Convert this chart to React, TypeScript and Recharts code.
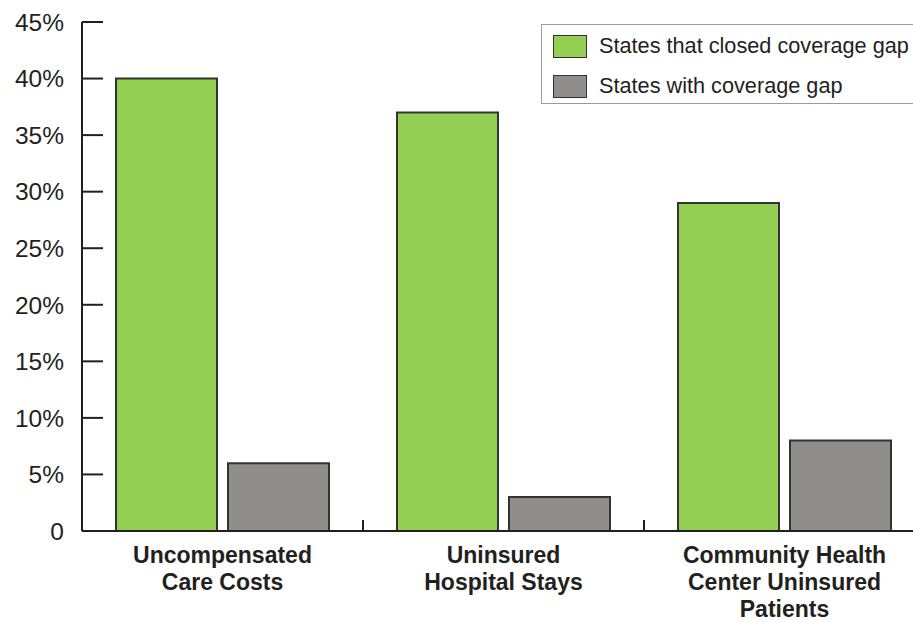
import { BarChart, Bar, XAxis, YAxis } from 'recharts';

const categories = [
  'Uncompensated\nCare Costs',
  'Uninsured\nHospital Stays',
  'Community Health\nCenter Uninsured\nPatients',
];
const closedGap = [40, 37, 29];
const withGap = [6, 3, 8];
const yTicks = [0, 5, 10, 15, 20, 25, 30, 35, 40, 45];
const seriesNames = ['States that closed coverage gap', 'States with coverage gap'];

const data = categories.map((name, i) => ({ name, closed: closedGap[i], gap: withGap[i] }));

const INK = '#231f20';
const GREEN = '#92cf52';
const GREY = '#8f8e8d';
const FONT = '"Liberation Sans", Arial, sans-serif';

function YTick(props: any) {
  const { x, y, payload } = props;
  const label = payload.value === 0 ? '0' : `${payload.value}%`;
  return (
    <g>
      <line x1={x} x2={x + 21} y1={y} y2={y} stroke={INK} strokeWidth={2} />
      <text x={x - 18} y={y} dy="0.36em" textAnchor="end" fontSize={24.5} fill={INK} fontFamily={FONT}>
        {label}
      </text>
    </g>
  );
}

function XTick(props: any) {
  const { x, y, payload, index } = props;
  const half = payload.offset ?? 140;
  const lines = String(payload.value).split('\n');
  return (
    <g>
      {index < categories.length - 1 && (
        <line x1={x + half} x2={x + half} y1={y} y2={y - 11} stroke={INK} strokeWidth={2} />
      )}
      <text x={x} y={y + 32} textAnchor="middle" fontSize={23} fontWeight="bold" fill={INK} fontFamily={FONT}>
        {lines.map((l, i) => (
          <tspan key={i} x={x} dy={i === 0 ? 0 : 27}>
            {l}
          </tspan>
        ))}
      </text>
    </g>
  );
}

export default function App() {
  return (
    <div style={{ position: 'absolute', left: 0, top: 0, width: 913, height: 622, overflow: 'hidden', background: '#fff' }}>
      <BarChart
        width={925}
        height={622}
        data={data}
        margin={{ top: 22, right: 0, left: 0, bottom: 0 }}
        barSize={101}
        barGap={11}
      >
        <XAxis
          dataKey="name"
          height={91}
          tickLine={false}
          tickSize={0}
          tickMargin={0}
          axisLine={{ stroke: INK, strokeWidth: 2 }}
          tick={<XTick />}
          interval={0}
        />
        <YAxis
          width={82}
          domain={[0, 45]}
          ticks={yTicks}
          tickLine={false}
          tickSize={0}
          tickMargin={0}
          axisLine={{ stroke: INK, strokeWidth: 2 }}
          tick={<YTick />}
          interval={0}
        />
        <Bar dataKey="closed" name={seriesNames[0]} fill={GREEN} stroke="#333" strokeWidth={2} isAnimationActive={false} />
        <Bar dataKey="gap" name={seriesNames[1]} fill={GREY} stroke="#333" strokeWidth={2} isAnimationActive={false} />
      </BarChart>
      <div
        style={{
          position: 'absolute',
          left: 541,
          top: 24,
          width: 400,
          height: 78,
          border: '1.5px solid #9a9a9a',
          fontFamily: FONT,
          fontSize: 21.7,
          color: INK,
        }}
      >
        {seriesNames.map((n, i) => (
          <div key={n} style={{ position: 'absolute', left: 11, top: 10 + i * 40, height: 22, display: 'flex', alignItems: 'center' }}>
            <span
              style={{
                display: 'inline-block',
                width: 32,
                height: 21,
                background: i === 0 ? GREEN : GREY,
                border: '1.5px solid #333',
                marginRight: 12,
              }}
            />
            <span style={{ whiteSpace: 'nowrap' }}>{n}</span>
          </div>
        ))}
      </div>
    </div>
  );
}
